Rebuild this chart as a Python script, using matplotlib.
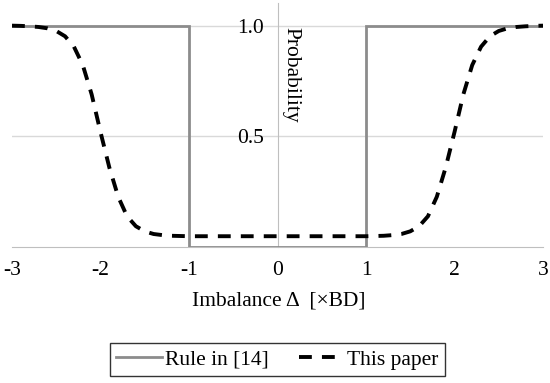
import matplotlib
matplotlib.use('Agg')
import matplotlib.pyplot as plt

plt.rcParams['font.family'] = ['Liberation Serif', 'DejaVu Serif']

# Rule in [14]: step curve
rule_x = [-3, -1, -1, 1, 1, 3]
rule_y = [1.0, 1.0, 0.0, 0.0, 1.0, 1.0]

# This paper: smooth curve
paper_x = [-3.0, -2.9, -2.8, -2.7, -2.6, -2.5, -2.4, -2.3, -2.2, -2.1, -2.0,
           -1.9, -1.8, -1.7, -1.6, -1.5, -1.4, -1.3, -1.2, -1.1, -1.0,
           0.0,
           1.0, 1.1, 1.2, 1.3, 1.4, 1.5, 1.6, 1.7, 1.8, 1.9, 2.0,
           2.1, 2.2, 2.3, 2.4, 2.5, 2.6, 2.7, 2.8, 2.9, 3.0]
paper_y = [1.000, 0.999, 0.997, 0.994, 0.988, 0.976, 0.952, 0.905, 0.822, 0.690, 0.520,
           0.360, 0.228, 0.140, 0.095, 0.072, 0.060, 0.055, 0.052, 0.051, 0.050,
           0.050,
           0.050, 0.051, 0.052, 0.055, 0.060, 0.072, 0.095, 0.140, 0.228, 0.360, 0.520,
           0.690, 0.822, 0.905, 0.952, 0.976, 0.988, 0.994, 0.997, 0.999, 1.000]

yticks = [0.5, 1.0]
xticks = [-3, -2, -1, 0, 1, 2, 3]

fs = 15.5

fig = plt.figure(figsize=(5.5, 3.83), dpi=100)
ax = fig.add_axes([0.0218, 0.3543, 0.9655, 0.6366])

grid_c = '#d9d9d9'
axis_c = '#bfbfbf'
for v in yticks:
    ax.axhline(v, color=grid_c, lw=1.0, zorder=0)

ax.plot(rule_x, rule_y, color='#8c8c8c', lw=2.0, solid_joinstyle='miter',
        label='Rule in [14]', zorder=2)
ax.plot(paper_x, paper_y, color='black', lw=2.8, dashes=(3.3, 2.6),
        dash_capstyle='butt', label='This paper', zorder=3)

ax.set_xlim(-3, 3)
ax.set_ylim(0, 1.1)

for s in ['top', 'right']:
    ax.spines[s].set_visible(False)
ax.spines['left'].set_position(('data', 0))
ax.spines['left'].set_color(axis_c)
ax.spines['bottom'].set_color(axis_c)
ax.spines['left'].set_zorder(1)
ax.spines['bottom'].set_zorder(1)

ax.set_xticks(xticks)
ax.set_xticklabels([str(t) for t in xticks])
ax.set_yticks(yticks)
ax.set_yticklabels(['%.1f' % t for t in yticks])
ax.tick_params(axis='both', length=0, labelsize=fs)
ax.tick_params(axis='x', pad=10)
ax.tick_params(axis='y', pad=10)

ax.text(0.15, 0.995, 'Probability', rotation=-90, ha='center', va='top', fontsize=fs)

fig.text(0.507, 0.214, 'Imbalance \u0394  [\u00d7BD]', ha='center', va='center', fontsize=fs)

leg = fig.legend(loc='center', bbox_to_anchor=(0.5045, 0.0614), ncol=2, fontsize=fs,
                 frameon=True, fancybox=False, edgecolor='black', handlelength=2.1,
                 columnspacing=1.4, borderpad=0.3, handletextpad=0.15)
leg.get_frame().set_linewidth(1.0)

fig.savefig('out.png', dpi=100)
